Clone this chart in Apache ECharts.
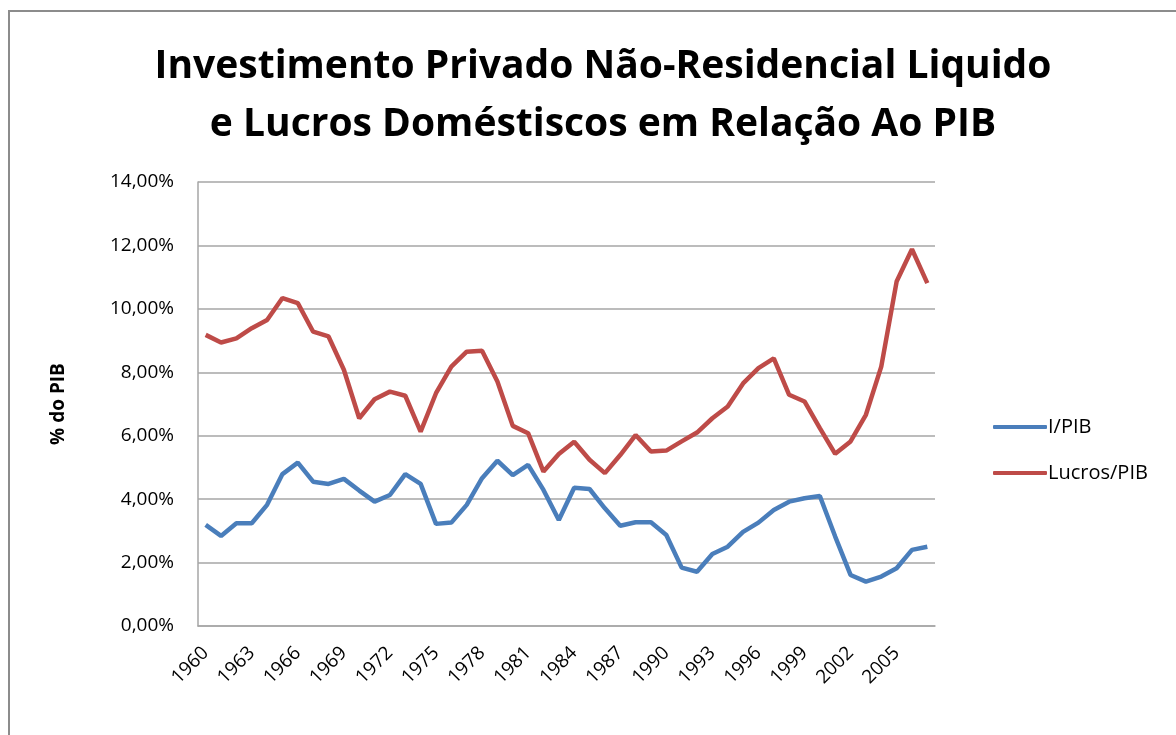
<!DOCTYPE html>
<html>
<head>
<meta charset="utf-8">
<script src="https://cdn.jsdelivr.net/npm/echarts@6/dist/echarts.min.js"></script>
<style>
  html, body { margin: 0; padding: 0; background: #fff; }
  #frame { position: absolute; left: 8px; top: 10px; width: 1180px; height: 740px; border: 2px solid #8c8c8c; box-sizing: border-box; }
  #chart { position: absolute; left: 0; top: 0; width: 1176px; height: 735px; }
</style>
</head>
<body>
<div id="frame"></div>
<div id="chart"></div>
<script>
// anos 1960-2007
var years = [];
for (var y = 1960; y <= 2007; y++) years.push(String(y));

// investimento privado não-residencial líquido / PIB (%)
var investPIB = [
  3.19, 2.84, 3.24, 3.24, 3.82, 4.79, 5.15, 4.55, 4.48, 4.64,
  4.27, 3.92, 4.13, 4.79, 4.48, 3.22, 3.26, 3.82, 4.66, 5.21,
  4.76, 5.08, 4.29, 3.34, 4.36, 4.32, 3.71, 3.16, 3.27, 3.27,
  2.87, 1.84, 1.71, 2.27, 2.50, 2.97, 3.26, 3.66, 3.92, 4.03,
  4.10, 2.82, 1.61, 1.40, 1.56, 1.82, 2.40, 2.50
];

// lucros domésticos / PIB (%)
var lucrosPIB = [
  9.18, 8.94, 9.07, 9.39, 9.65, 10.34, 10.18, 9.28, 9.13, 8.08,
  6.55, 7.15, 7.39, 7.26, 6.13, 7.34, 8.18, 8.65, 8.68, 7.71,
  6.31, 6.08, 4.87, 5.42, 5.81, 5.24, 4.82, 5.39, 6.02, 5.50,
  5.53, 5.82, 6.10, 6.55, 6.92, 7.65, 8.13, 8.44, 7.29, 7.08,
  6.24, 5.43, 5.82, 6.66, 8.18, 10.86, 11.88, 10.81
];

var seriesNames = ['I/PIB', 'Lucros/PIB'];
var font = '"Open Sans", "DejaVu Sans", sans-serif';

var chart = echarts.init(document.getElementById('chart'));
chart.setOption({
  animation: false,
  title: {
    text: 'Investimento Privado Não-Residencial Liquido\ne Lucros Doméstiscos em Relação Ao PIB',
    left: 598,
    textAlign: 'center',
    top: 33,
    textStyle: { fontFamily: font, fontSize: 39, fontWeight: 'bold', color: '#000', lineHeight: 58 }
  },
  legend: {
    orient: 'vertical',
    left: 988,
    top: 412,
    itemWidth: 54,
    itemHeight: 4,
    itemGap: 26,
    icon: 'roundRect',
    textStyle: { fontFamily: font, fontSize: 20, color: '#000', padding: [0, 0, 0, -4] },
    data: seriesNames
  },
  grid: { left: 198, top: 182, right: 241, bottom: 109 },
  xAxis: {
    type: 'category',
    data: years,
    boundaryGap: true,
    axisLine: { lineStyle: { color: '#a6a6a6', width: 1.5 } },
    axisTick: { show: false },
    axisLabel: {
      interval: 2,
      rotate: 45,
      margin: 24,
      fontFamily: font,
      fontSize: 19,
      color: '#000'
    }
  },
  yAxis: {
    type: 'value',
    min: 0,
    max: 14,
    interval: 2,
    name: '% do PIB',
    nameLocation: 'middle',
    nameGap: 130,
    nameTextStyle: { fontFamily: font, fontSize: 19, fontWeight: 'bold', color: '#000' },
    axisLine: { show: true, lineStyle: { color: '#a6a6a6', width: 1.5 } },
    axisTick: { show: false },
    axisLabel: {
      margin: 24,
      fontFamily: font,
      fontSize: 19,
      color: '#000',
      formatter: function (v) { return v.toFixed(2).replace('.', ',') + '%'; }
    },
    splitLine: { lineStyle: { color: '#a6a6a6', width: 1.5 } }
  },
  series: [
    {
      name: seriesNames[0],
      type: 'line',
      data: investPIB,
      symbol: 'none',
      lineStyle: { color: '#4a7ebb', width: 4.5 },
      itemStyle: { color: '#4a7ebb' }
    },
    {
      name: seriesNames[1],
      type: 'line',
      data: lucrosPIB,
      symbol: 'none',
      lineStyle: { color: '#be4b48', width: 4.5 },
      itemStyle: { color: '#be4b48' }
    }
  ]
});
</script>
</body>
</html>
